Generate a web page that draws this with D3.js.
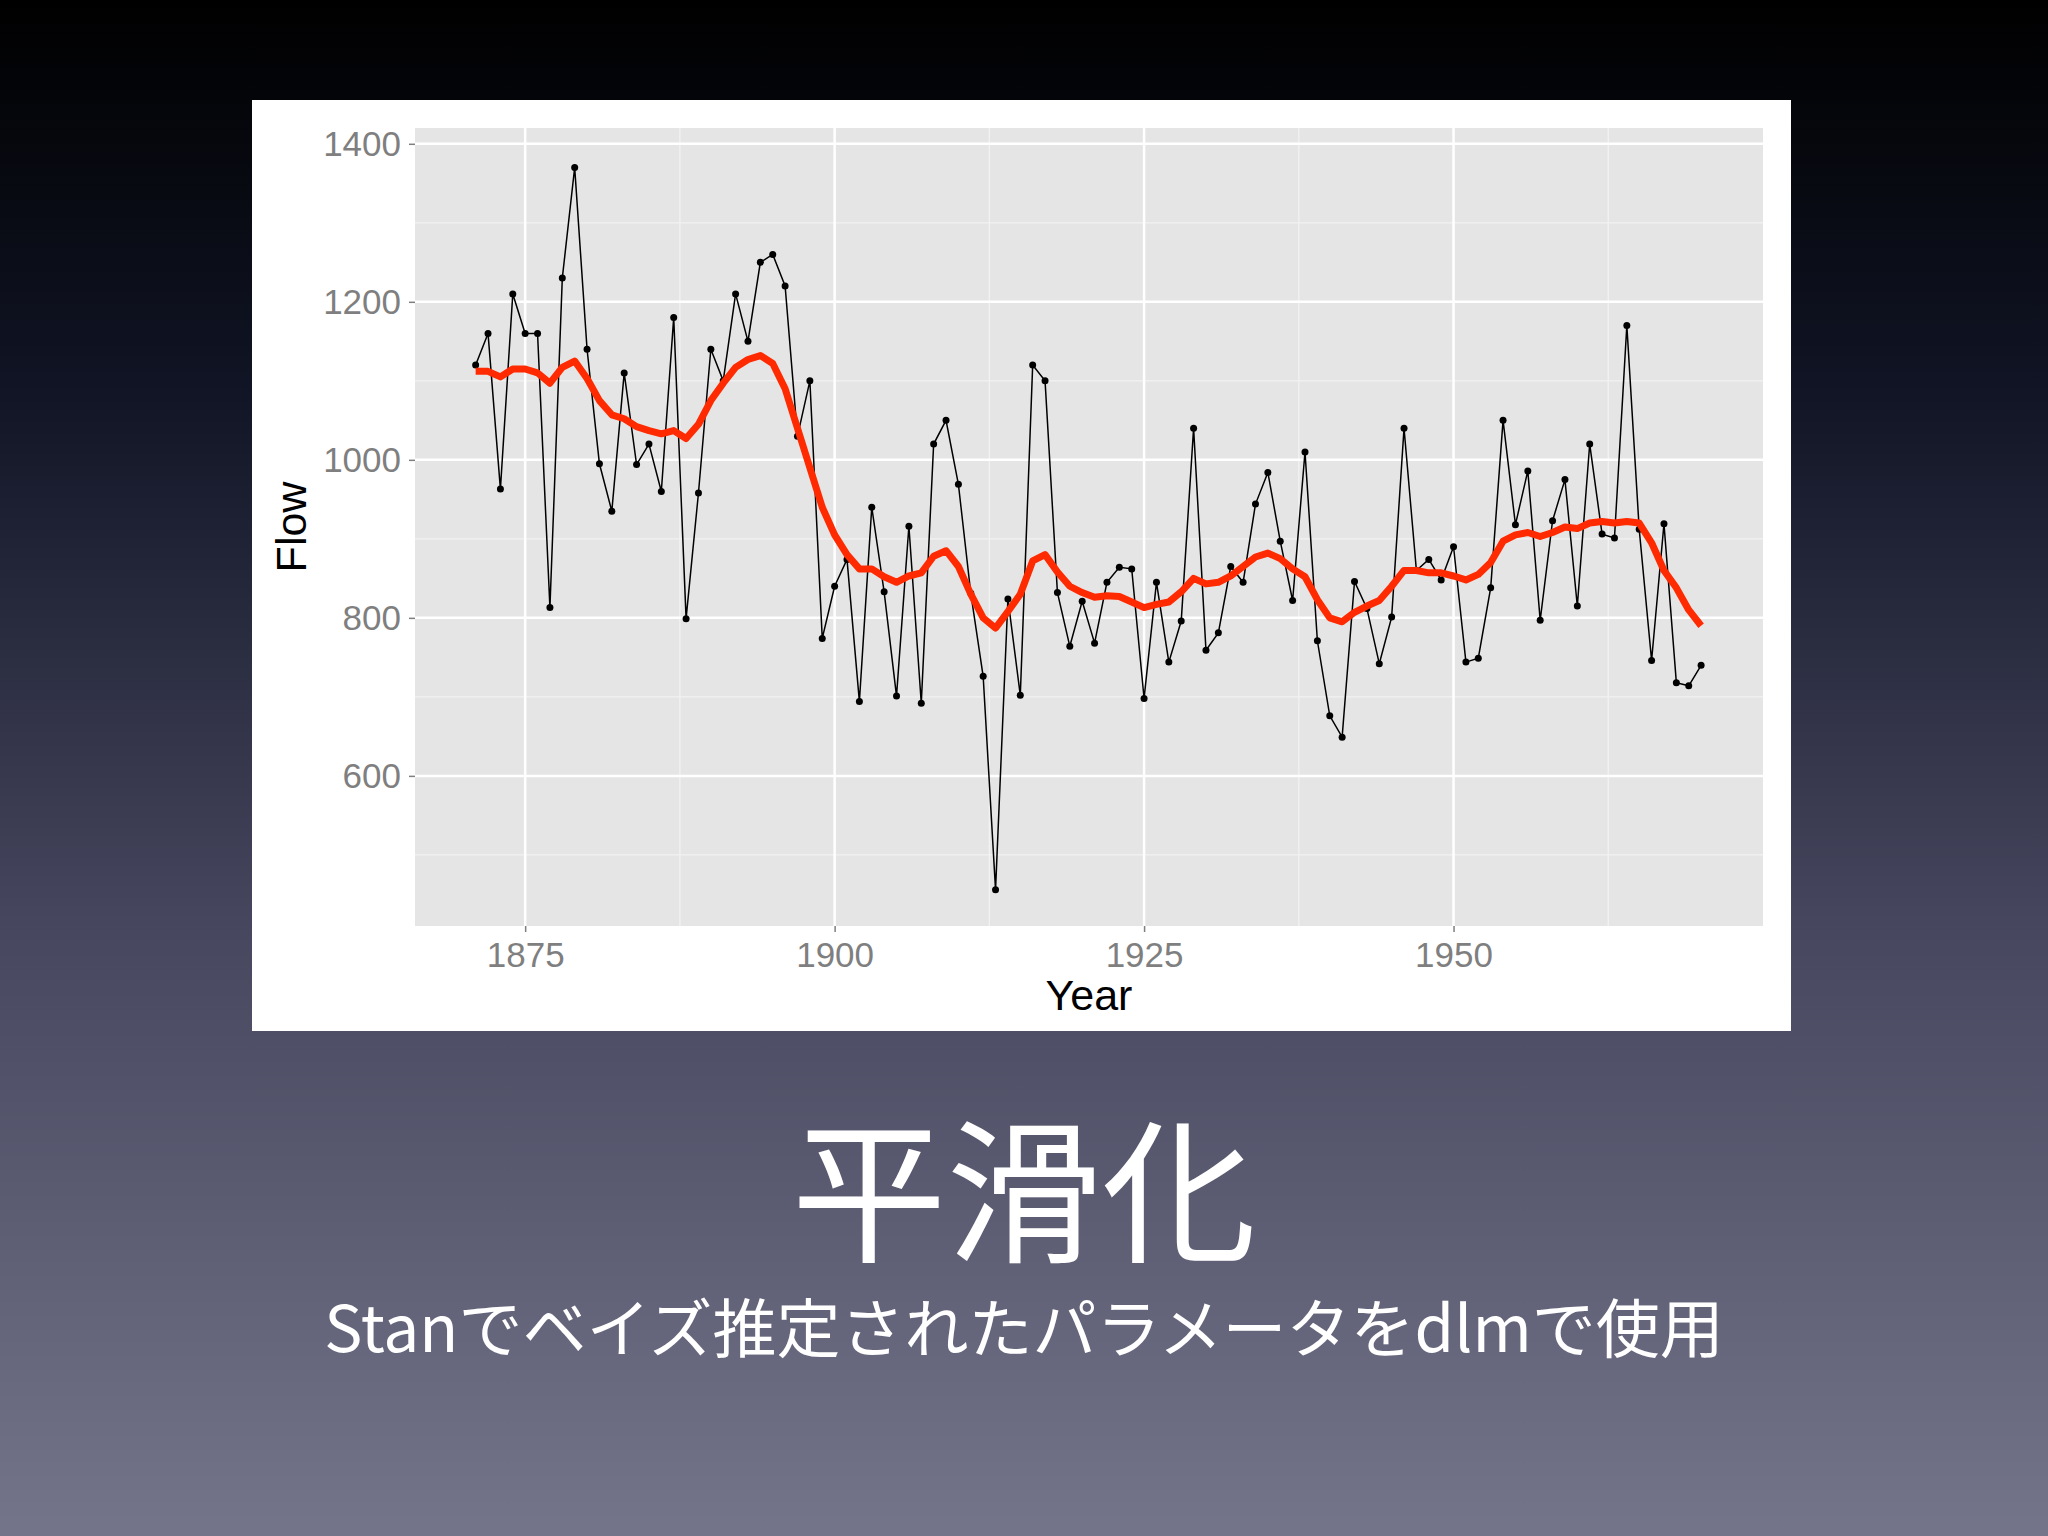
<!DOCTYPE html>
<html><head><meta charset="utf-8">
<script src="https://cdn.jsdelivr.net/npm/d3@7"></script>
<style>body{margin:0;width:2048px;height:1536px;overflow:hidden}</style>
</head><body><svg id="c" width="2048" height="1536"></svg>
<script>
const startYear = 1871;
const flow = [1120,1160,963,1210,1160,1160,813,1230,1370,1140,995,935,1110,994,1020,960,1180,799,958,1140,1100,1210,1150,1250,1260,1220,1030,1100,774,840,874,694,940,833,701,916,692,1020,1050,969,831,726,456,824,702,1120,1100,832,764,821,768,845,864,862,698,845,744,796,1040,759,781,865,845,944,984,897,822,1010,771,676,649,846,812,742,801,1040,860,874,848,890,744,749,838,1050,918,986,797,923,975,815,1020,906,901,1170,912,746,919,718,714,740];
const smooth = [1112,1112,1105,1115,1115,1110,1097,1117,1125,1103,1075,1057,1052,1042,1037,1033,1037,1027,1045,1075,1097,1117,1127,1132,1122,1090,1040,990,940,905,880,862,862,852,845,853,857,878,885,865,830,800,787,808,830,872,880,858,840,832,826,828,827,820,813,817,820,833,850,843,845,853,865,877,882,875,862,852,823,800,795,807,815,822,840,860,860,857,857,853,848,855,870,897,905,908,903,908,915,913,920,922,920,922,920,895,860,838,810,790];
const xTicks = [1875,1900,1925,1950];
const yTicks = [600,800,1000,1200,1400];
const title = "平滑化";
const subtitle = "Stanでベイズ推定されたパラメータをdlmで使用";

const svg = d3.select("#c");
const defs = svg.append("defs");
const g = defs.append("linearGradient").attr("id","bg").attr("x1",0).attr("y1",0).attr("x2",0).attr("y2",1);
g.append("stop").attr("offset","0").attr("stop-color","#000000");
g.append("stop").attr("offset","0.25").attr("stop-color","#101424");
g.append("stop").attr("offset","0.6").attr("stop-color","#46465e");
g.append("stop").attr("offset","1").attr("stop-color","#74748a");
svg.append("rect").attr("width",2048).attr("height",1536).attr("fill","url(#bg)");
svg.append("rect").attr("x",252).attr("y",100).attr("width",1539).attr("height",931).attr("fill","#fff");

const L=415,R=1763,T=128,B=926;
const x = d3.scaleLinear().domain([1866.1,1975]).range([L,R]);
const y = d3.scaleLinear().domain([410,1420]).range([B,T]);
svg.append("rect").attr("x",L).attr("y",T).attr("width",R-L).attr("height",B-T).attr("fill","#e5e5e5");
const minorX = [1862.5,1887.5,1912.5,1937.5,1962.5].filter(v=>v>1866.1&&v<1975);
const minorY = [500,700,900,1100,1300];
svg.selectAll(".mx").data(minorX).enter().append("line").attr("x1",d=>x(d)).attr("x2",d=>x(d)).attr("y1",T).attr("y2",B).attr("stroke","#f2f2f2").attr("stroke-width",1.3);
svg.selectAll(".my").data(minorY).enter().append("line").attr("y1",d=>y(d)).attr("y2",d=>y(d)).attr("x1",L).attr("x2",R).attr("stroke","#f2f2f2").attr("stroke-width",1.3);
svg.selectAll(".gx").data(xTicks).enter().append("line").attr("x1",d=>x(d)).attr("x2",d=>x(d)).attr("y1",T).attr("y2",B).attr("stroke","#fff").attr("stroke-width",2.5);
svg.selectAll(".gy").data(yTicks).enter().append("line").attr("y1",d=>y(d)).attr("y2",d=>y(d)).attr("x1",L).attr("x2",R).attr("stroke","#fff").attr("stroke-width",2.5);

const xa = svg.append("g").attr("transform",`translate(0,${B})`).call(d3.axisBottom(x).tickValues(xTicks).tickSize(6).tickPadding(10).tickFormat(d3.format("d")));
const ya = svg.append("g").attr("transform",`translate(${L},0)`).call(d3.axisLeft(y).tickValues(yTicks).tickSize(6).tickPadding(8).tickFormat(d3.format("d")));
[xa,ya].forEach(a=>{a.select(".domain").remove();a.selectAll("line").attr("stroke","#7f7f7f").attr("stroke-width",1.5);
 a.selectAll("text").attr("fill","#7f7f7f").style("font-family","Liberation Sans, Arial").style("font-size","35px");});

const years = flow.map((v,i)=>startYear+i);
svg.append("path").datum(flow).attr("fill","none").attr("stroke","#000").attr("stroke-width",1.5)
 .attr("d",d3.line().x((d,i)=>x(years[i])).y(d=>y(d)));
svg.selectAll(".pt").data(flow).enter().append("circle").attr("cx",(d,i)=>x(years[i])).attr("cy",d=>y(d)).attr("r",3.5).attr("fill","#000");
svg.append("path").datum(smooth).attr("fill","none").attr("stroke","#ff2a00").attr("stroke-width",7).attr("stroke-linejoin","round")
 .attr("d",d3.line().x((d,i)=>x(years[i])).y(d=>y(d)));

svg.append("text").attr("x",(L+R)/2).attr("y",1010).attr("text-anchor","middle").style("font-family","Liberation Sans, Arial").style("font-size","43px").attr("fill","#000").text("Year");
svg.append("text").attr("transform",`translate(306,${(T+B)/2}) rotate(-90)`).attr("text-anchor","middle").style("font-family","Liberation Sans, Arial").style("font-size","43px").attr("fill","#000").text("Flow");

svg.append("text").attr("x",1024).attr("y",1250).attr("text-anchor","middle").style("font-family","Noto Sans CJK JP").style("font-size","155px").attr("fill","#fff").text(title);
svg.append("text").attr("x",1024).attr("y",1352).attr("text-anchor","middle").style("font-family","Noto Sans CJK JP").style("font-size","64px").attr("fill","#fff").text(subtitle);
</script></body></html>
